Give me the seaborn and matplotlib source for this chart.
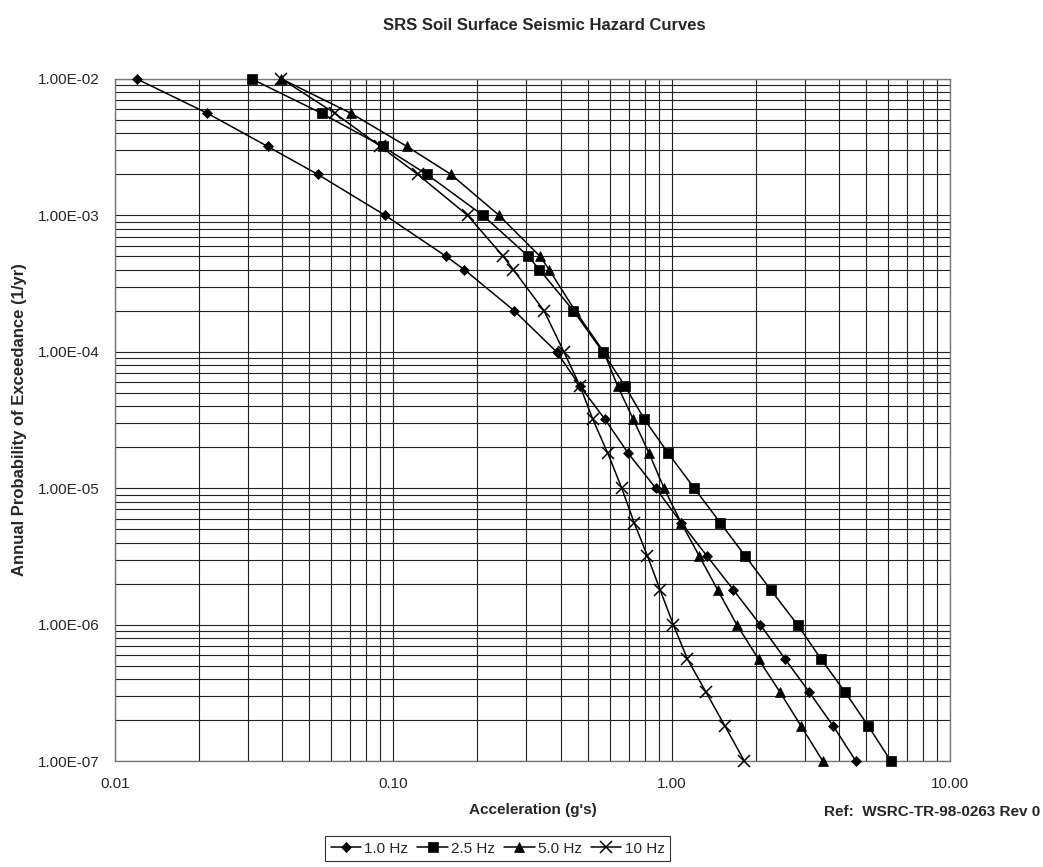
import numpy as np
import matplotlib
matplotlib.use("Agg")
import matplotlib.pyplot as plt
import pandas as pd
import seaborn as sns
from matplotlib.ticker import FixedLocator, FuncFormatter, LogLocator, NullFormatter

# Annual probability levels (shared by all curves)
prob_levels = [1e-2, 5.6e-3, 3.2e-3, 2e-3, 1e-3, 5e-4, 4e-4, 2e-4, 1e-4,
               5.6e-5, 3.2e-5, 1.8e-5, 1e-5, 5.6e-6, 3.2e-6, 1.8e-6, 1e-6,
               5.6e-7, 3.2e-7, 1.8e-7, 1e-7]

# Acceleration (g) for each frequency
acc_1hz = [0.012, 0.0215, 0.0354, 0.0535, 0.0936, 0.155, 0.180, 0.272, 0.386,
           0.469, 0.576, 0.699, 0.877, 1.081, 1.337, 1.666, 2.08, 2.556, 3.12,
           3.81, 4.59]
acc_2_5hz = [0.031, 0.0553, 0.0916, 0.132, 0.21, 0.306, 0.335, 0.444, 0.565,
             0.68, 0.798, 0.973, 1.206, 1.493, 1.835, 2.27, 2.83, 3.44, 4.20,
             5.09, 6.13]
acc_5hz = [0.0397, 0.0705, 0.112, 0.161, 0.240, 0.337, 0.363, 0.45, 0.57,
           0.640, 0.728, 0.83, 0.939, 1.081, 1.255, 1.462, 1.713, 2.05, 2.45,
           2.92, 3.49]
acc_10hz = [0.0397, 0.0617, 0.09, 0.1224, 0.185, 0.2485, 0.270, 0.348, 0.41,
            0.469, 0.521, 0.590, 0.662, 0.733, 0.818, 0.909, 1.014, 1.139,
            1.329, 1.556, 1.825]

series_names = ["1.0 Hz", "2.5 Hz", "5.0 Hz", "10 Hz"]
series_acc = [acc_1hz, acc_2_5hz, acc_5hz, acc_10hz]
series_markers = ["D", "s", "^", "x"]
series_msize = [5.5, 7, 7.5, 8]

x_ticks = [0.01, 0.1, 1, 10]
y_ticks = [1e-7, 1e-6, 1e-5, 1e-4, 1e-3, 1e-2]

sns.set_style("white")
plt.rcParams['font.family'] = ['Liberation Sans', 'DejaVu Sans']

fig, ax = plt.subplots(figsize=(10.43, 8.67), dpi=100)
fig.subplots_adjust(left=0.110, right=0.911, top=0.909, bottom=0.122)

for name, acc, mk, ms in zip(series_names, series_acc, series_markers, series_msize):
    df = pd.DataFrame({"acc": acc, "prob": prob_levels})
    sns.lineplot(
        data=df, x="acc", y="prob", color="black", marker=mk,
        markersize=ms, markeredgecolor="black", markerfacecolor="black",
        markeredgewidth=1.1 if mk == "x" else 0.5,
        estimator=None, sort=False, linewidth=1.1, label=name, ax=ax,
        clip_on=False, zorder=3,
    )

ax.set_xscale("log")
ax.set_yscale("log")
ax.set_xlim(0.01, 10)
ax.set_ylim(1e-7, 1e-2)

ax.xaxis.set_major_locator(FixedLocator(x_ticks))
ax.yaxis.set_major_locator(FixedLocator(y_ticks))
ax.xaxis.set_major_formatter(FuncFormatter(lambda v, p: f"{v:.2f}"))
ax.yaxis.set_major_formatter(FuncFormatter(lambda v, p: f"{v:.2E}"))
ax.xaxis.set_minor_locator(LogLocator(base=10, subs=np.arange(2, 10), numticks=20))
ax.yaxis.set_minor_locator(LogLocator(base=10, subs=np.arange(2, 10), numticks=20))
ax.xaxis.set_minor_formatter(NullFormatter())
ax.yaxis.set_minor_formatter(NullFormatter())

ax.grid(True, which="both", color="#222222", linewidth=0.8)
ax.set_axisbelow(True)
ax.tick_params(axis="both", which="major", direction="out", length=5,
               width=0.8, color="#555555", labelsize=11, pad=6)
ax.tick_params(axis="both", which="minor", length=0)
for s in ax.spines.values():
    s.set_color("#777777")
    s.set_linewidth(1.0)

ax.set_xlabel("Acceleration (g's)", fontsize=11, fontweight="bold", labelpad=9)
ax.set_ylabel("Annual Probability of Exceedance (1/yr)", fontsize=12,
              fontweight="bold", labelpad=8)

fig.text(0.522, 0.971, "SRS Soil Surface Seismic Hazard Curves",
         ha="center", va="center", fontsize=12, fontweight="bold")
fig.text(0.997, 0.064, "Ref:  WSRC-TR-98-0263 Rev 0", ha="right", va="center",
         fontsize=11, fontweight="bold")

handles, labels = ax.get_legend_handles_labels()
ax.legend_.remove()
leg = fig.legend(handles, labels, loc="center", bbox_to_anchor=(0.477, 0.021),
                 ncol=4, frameon=True, fancybox=False, fontsize=11,
                 handlelength=2.0, handletextpad=0.2, columnspacing=0.6,
                 borderpad=0.35, edgecolor="black")
leg.get_frame().set_linewidth(0.8)

plt.savefig("out.png", dpi=100)
